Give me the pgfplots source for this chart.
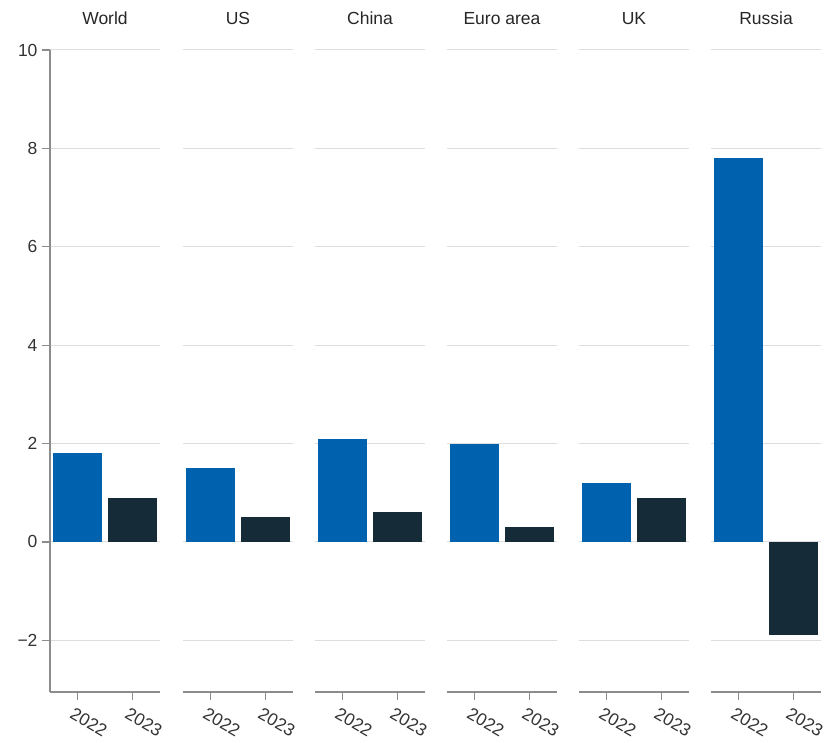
\documentclass[border=0pt]{standalone}
\usepackage{fontspec}
\setmainfont{Liberation Sans}
\usepackage{pgfplots}
\pgfplotsset{compat=1.18}

\definecolor{bar22}{HTML}{0061AF}
\definecolor{bar23}{HTML}{162B38}
\definecolor{axgray}{HTML}{8C8C8C}
\definecolor{gridgray}{HTML}{DDDDDD}
\definecolor{txt}{HTML}{333333}

\pgfplotsset{
  panel/.style={
    scale only axis, width=110pt, height=642pt,
    xmin=-0.5, xmax=1.5, ymin=-3.05, ymax=10,
    axis x line*=bottom, axis y line*=left,
    axis line style={axgray, line width=1.2pt},
    tick style={axgray, line width=1.2pt},
    tick align=outside, major tick length=8pt,
    xtick={0,1}, xticklabels={2022,2023},
    ytick={-2,0,2,4,6,8,10},
    yticklabels={−2,0,2,4,6,8,10},
    ymajorgrids, grid style={gridgray, line width=1pt},
    tick label style={font=\fontsize{17.5}{20}\selectfont, text=txt},
    yticklabel style={xshift=-1pt},
    xticklabel style={rotate=-30, anchor=north west, yshift=-4pt, xshift=-2pt},
    title style={at={(0.5,1)}, anchor=base, yshift=19pt,
      font=\fontsize{17.5}{20}\selectfont, text=black!85},
    ybar, bar width=0.88, bar shift=0pt,
    every axis plot/.append style={draw=none},
  },
  noy/.style={
    y axis line style={draw=none}, ytick style={draw=none}, yticklabels={},
  },
}

\begin{document}
\begin{tikzpicture}
\useasboundingbox (0,0) rectangle (830pt,742pt);

\begin{axis}[panel, at={(50pt,50pt)}, anchor=south west, title={World}]
  \addplot[fill=bar22] coordinates {(0,1.8)};
  \addplot[fill=bar23] coordinates {(1,0.9)};
\end{axis}

\begin{axis}[panel, noy, at={(183pt,50pt)}, anchor=south west, title={US}]
  \addplot[fill=bar22] coordinates {(0,1.5)};
  \addplot[fill=bar23] coordinates {(1,0.5)};
\end{axis}

\begin{axis}[panel, noy, at={(315pt,50pt)}, anchor=south west, title={China}]
  \addplot[fill=bar22] coordinates {(0,2.1)};
  \addplot[fill=bar23] coordinates {(1,0.6)};
\end{axis}

\begin{axis}[panel, noy, at={(447pt,50pt)}, anchor=south west, title={Euro area}]
  \addplot[fill=bar22] coordinates {(0,2.0)};
  \addplot[fill=bar23] coordinates {(1,0.3)};
\end{axis}

\begin{axis}[panel, noy, at={(579pt,50pt)}, anchor=south west, title={UK}]
  \addplot[fill=bar22] coordinates {(0,1.2)};
  \addplot[fill=bar23] coordinates {(1,0.9)};
\end{axis}

\begin{axis}[panel, noy, at={(711pt,50pt)}, anchor=south west, title={Russia}]
  \addplot[fill=bar22] coordinates {(0,7.8)};
  \addplot[fill=bar23] coordinates {(1,-1.9)};
\end{axis}

\end{tikzpicture}
\end{document}
